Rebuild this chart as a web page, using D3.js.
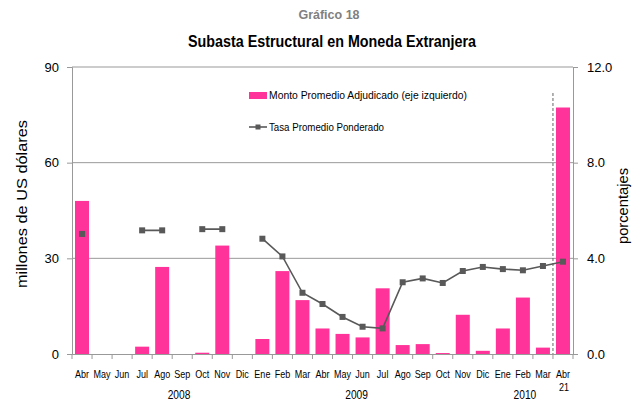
<!DOCTYPE html>
<html><head><meta charset="utf-8">
<script src="https://cdn.jsdelivr.net/npm/d3@7"></script>
<style>body{margin:0;background:#fff}svg{display:block}text{font-family:"Liberation Sans",sans-serif}</style>
</head><body><svg id="c" width="640" height="405"></svg>
<script>
const months = ["Abr","May","Jun","Jul","Ago","Sep","Oct","Nov","Dic","Ene","Feb","Mar","Abr","May","Jun","Jul","Ago","Sep","Oct","Nov","Dic","Ene","Feb","Mar","Abr"];
const monto = [48.0,null,null,2.3,27.3,null,0.4,34.0,null,4.7,26.0,16.9,8.0,6.3,5.2,20.6,2.8,3.1,0.3,12.3,1.0,8.0,17.7,2.0,77.3];
const tasa = [5.02,null,null,5.17,5.17,null,5.22,5.22,null,4.82,4.08,2.56,2.09,1.55,1.14,1.07,3.00,3.16,2.97,3.47,3.64,3.55,3.50,3.68,3.86];
const leftTicks = [0,30,60,90];
const rightTicks = [0,4,8,12];
const years = ["2008","2009","2010"];
const yearAt = [4.84, 13.7, 22.1];
const lastSub = "21";

const svg = d3.select("#c");
const L=72,R=573,T=67,B=354;
const n = months.length;
const x = d3.scaleBand().domain(d3.range(n)).range([L,R]);
const yl = d3.scaleLinear().domain([0,90]).range([B,T]);
const yr = d3.scaleLinear().domain([0,12]).range([B,T]);
const cx = i => x(i) + x.bandwidth()/2;
const bw = 14;
const grid="#999";

// titles
svg.append("text").attr("x",329).attr("y",19).attr("text-anchor","middle").attr("fill","#808080")
  .attr("font-weight","bold").attr("font-size",12.5).text("Gráfico 18");
svg.append("text").attr("x",332).attr("y",47).attr("text-anchor","middle").attr("fill","#000")
  .attr("font-weight","bold").attr("font-size",16).attr("textLength",288).attr("lengthAdjust","spacingAndGlyphs")
  .text("Subasta Estructural en Moneda Extranjera");

// gridlines
svg.append("g").selectAll("line").data(leftTicks.filter(d=>d>0)).join("line")
  .attr("x1",L).attr("x2",R).attr("y1",d=>yl(d)).attr("y2",d=>yl(d)).attr("stroke",grid).attr("stroke-width",1);

// left axis
const gl = svg.append("g").attr("transform",`translate(${L},0)`)
  .call(d3.axisLeft(yl).tickValues(leftTicks).tickSize(5).tickPadding(8));
gl.select(".domain").attr("stroke",grid);
gl.selectAll(".tick line").attr("stroke",grid);
gl.selectAll("text").attr("font-size",13).attr("fill","#000").style("font-family","'Liberation Sans',sans-serif");

// right axis
const gr = svg.append("g").attr("transform",`translate(${R},0)`)
  .call(d3.axisRight(yr).tickValues(rightTicks).tickFormat(d3.format(".1f")).tickSize(5).tickPadding(9));
gr.select(".domain").attr("stroke",grid);
gr.selectAll(".tick line").attr("stroke",grid);
gr.selectAll("text").attr("font-size",13).attr("fill","#000").style("font-family","'Liberation Sans',sans-serif");

// bars
svg.append("g").selectAll("rect").data(monto.map((v,i)=>({v,i})).filter(d=>d.v!=null)).join("rect")
  .attr("x",d=>cx(d.i)-bw/2).attr("width",bw)
  .attr("y",d=>yl(d.v)).attr("height",d=>yl(0)-yl(d.v))
  .attr("fill","#FF3399");

// bottom axis
svg.append("line").attr("x1",L).attr("x2",R).attr("y1",B+0.5).attr("y2",B+0.5).attr("stroke",grid);
svg.append("g").selectAll("line").data(d3.range(n+1)).join("line")
  .attr("x1",i=>L+i*x.step()).attr("x2",i=>L+i*x.step())
  .attr("y1",B).attr("y2",B+5).attr("stroke",grid);
svg.append("g").selectAll("text").data(months).join("text")
  .attr("transform",(d,i)=>`translate(${cx(i)},378) scale(0.82,1)`).attr("text-anchor","middle")
  .attr("font-size",11).attr("fill","#000").text(d=>d);
svg.append("text").attr("transform",`translate(${cx(n-1)+1},391) scale(0.82,1)`).attr("text-anchor","middle").attr("font-size",11).text(lastSub);
svg.append("g").selectAll("text").data(years).join("text")
  .attr("transform",(d,i)=>`translate(${L+(yearAt[i]+0.5)*x.step()},399) scale(0.85,1)`).attr("text-anchor","middle").attr("font-size",12).text(d=>d);

// dashed vertical
svg.append("line").attr("x1",L+(n-1)*x.step()).attr("x2",L+(n-1)*x.step())
  .attr("y1",93).attr("y2",B).attr("stroke","#666").attr("stroke-dasharray","3,2").attr("stroke-width",1);

// line
const pts = tasa.map((v,i)=>({v,i}));
svg.append("path").datum(pts).attr("fill","none").attr("stroke","#595959").attr("stroke-width",1.6)
  .attr("d",d3.line().defined(d=>d.v!=null).x(d=>cx(d.i)).y(d=>yr(d.v)));
svg.append("g").selectAll("rect").data(pts.filter(d=>d.v!=null)).join("rect")
  .attr("x",d=>cx(d.i)-3).attr("y",d=>yr(d.v)-3).attr("width",6).attr("height",6).attr("fill","#595959");

// axis titles
svg.append("text").attr("transform","translate(27,204) rotate(-90)").attr("text-anchor","middle")
  .attr("font-size",14).attr("textLength",168).attr("lengthAdjust","spacingAndGlyphs").text("millones de US dólares");
svg.append("text").attr("transform","translate(628,206) rotate(-90)").attr("text-anchor","middle")
  .attr("font-size",14).attr("textLength",76).attr("lengthAdjust","spacingAndGlyphs").text("porcentajes");

// legend
svg.append("rect").attr("x",249).attr("y",92).attr("width",18).attr("height",7).attr("fill","#FF3399");
svg.append("text").attr("x",269).attr("y",99).attr("font-size",11.5).attr("textLength",198).attr("lengthAdjust","spacingAndGlyphs")
  .text("Monto Promedio Adjudicado (eje izquierdo)");
svg.append("line").attr("x1",249).attr("x2",267).attr("y1",127).attr("y2",127).attr("stroke","#595959").attr("stroke-width",1.6);
svg.append("rect").attr("x",255.5).attr("y",124.5).attr("width",5).attr("height",5).attr("fill","#595959");
svg.append("text").attr("x",269).attr("y",131).attr("font-size",11.5).attr("textLength",115).attr("lengthAdjust","spacingAndGlyphs")
  .text("Tasa Promedio Ponderado");
</script></body></html>
